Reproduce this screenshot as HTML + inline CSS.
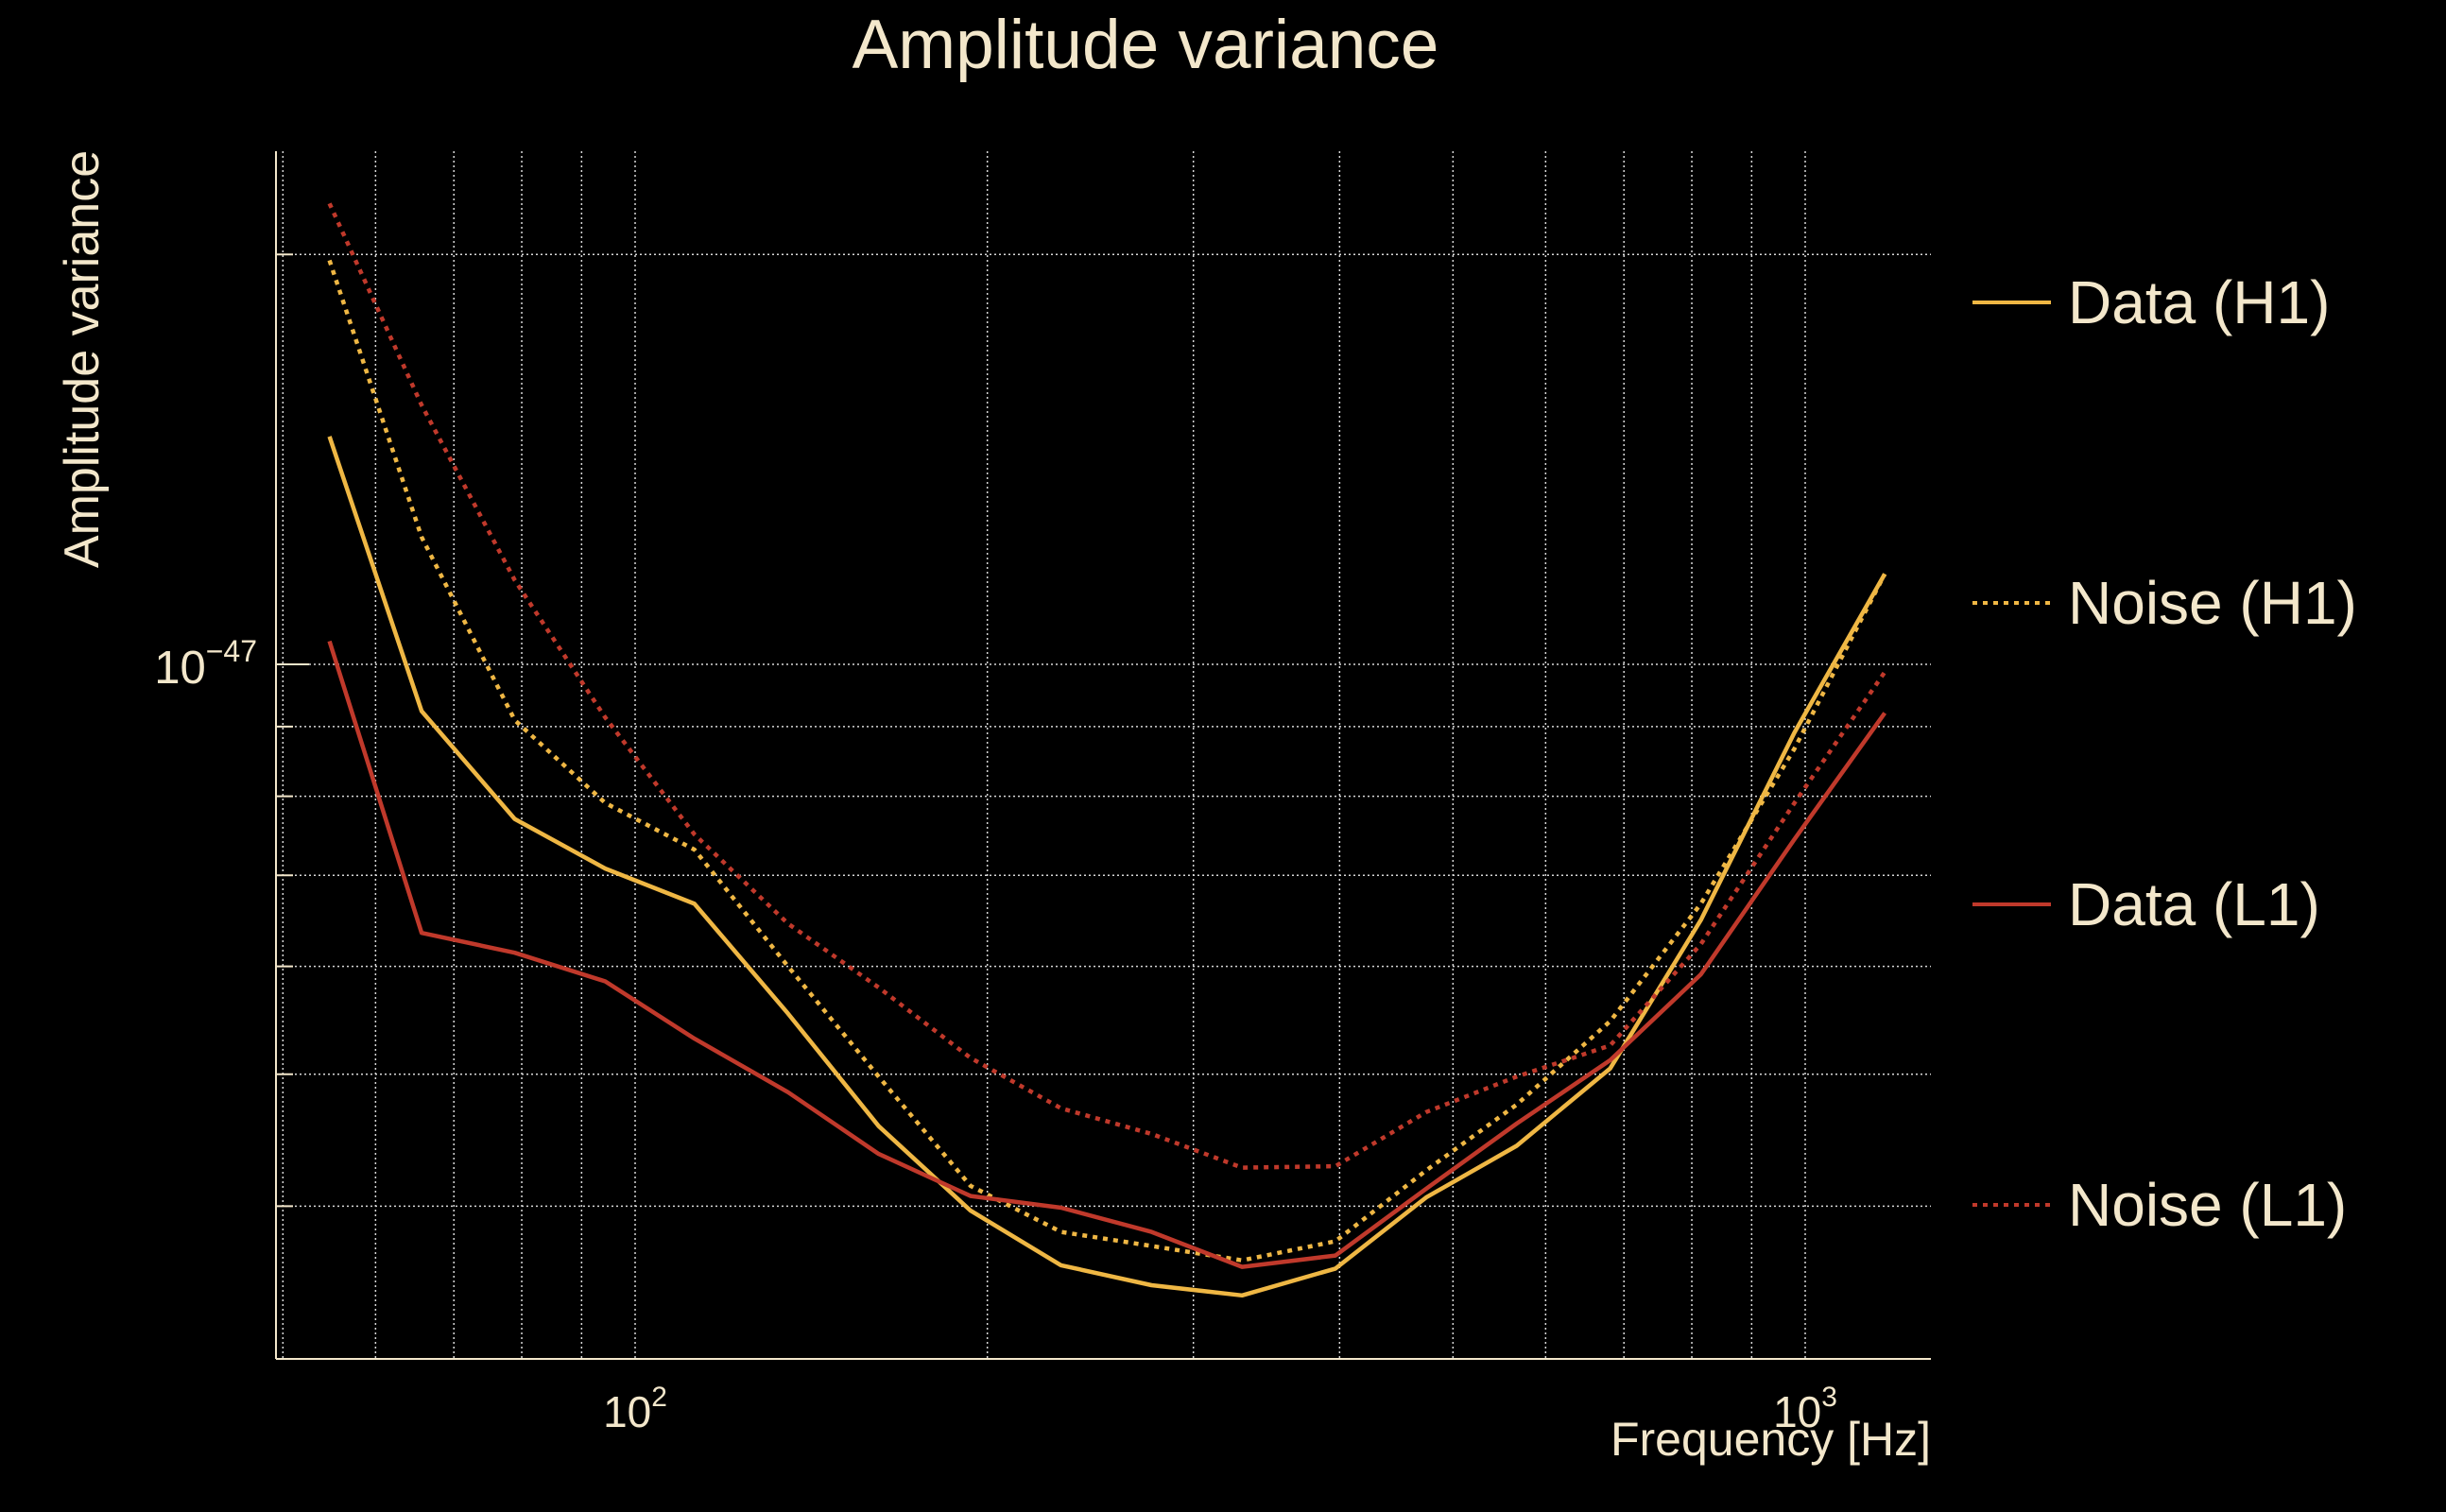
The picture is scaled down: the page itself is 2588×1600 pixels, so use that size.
<!DOCTYPE html>
<html><head><meta charset="utf-8"><style>
html,body{margin:0;padding:0;background:#000;}
svg{display:block;}
text{font-family:"Liberation Sans",sans-serif;fill:#f3e7cb;}
</style></head><body>
<svg id="chart" width="2588" height="1600" viewBox="0 0 2588 1600" xmlns="http://www.w3.org/2000/svg">
<rect width="2588" height="1600" fill="#000"/>
<text x="1212" y="72" font-size="73" text-anchor="middle">Amplitude variance</text>
<g id="grid"></g>
<g id="series"></g>
<g id="axes"></g>
<g id="legend"></g>
<text transform="translate(104,380) rotate(-90)" font-size="52" text-anchor="middle">Amplitude variance</text>
<text x="2043" y="1540" font-size="50" text-anchor="end">Frequency [Hz]</text>
</svg>
<script>
const freqs = [54.8,65.7,78.9,94.3,112.4,135.1,161.5,193.5,231.2,276.3,330.2,396.8,474.3,566.8,681.3,814.4,979,1169.5];
const dataH1 = [14.7,9.24,7.70,7.08,6.67,5.54,4.58,3.97,3.62,3.50,3.44,3.60,4.06,4.43,5.05,6.49,8.91,11.65];
const noiseH1 = [19.8,12.4,9.10,7.91,7.31,6.00,4.98,4.14,3.83,3.74,3.65,3.77,4.25,4.75,5.47,6.67,8.67,11.65];
const dataL1 = [10.40,6.35,6.14,5.85,5.31,4.85,4.37,4.07,3.99,3.83,3.61,3.68,4.12,4.60,5.12,5.92,7.44,9.21];
const noiseL1 = [21.8,15.5,11.53,9.14,7.50,6.45,5.79,5.14,4.72,4.52,4.27,4.28,4.69,4.98,5.25,6.23,7.91,9.87];
const seriesNames = ["Data (H1)","Noise (H1)","Data (L1)","Noise (L1)"];
const xGridTicks = [50,60,70,80,90,100,200,300,400,500,600,700,800,900,1000];
const yGridTicks = [4,5,6,7,8,9,10,20];
const xTickLabels = [["10","2",100],["10","3",1000]];
const yTickLabels = [["10","\u221247",10]];
const unit = 1e-48;

const NS="http://www.w3.org/2000/svg";
const L=292,R=2043,T=160,B=1438;
function xs(f){return 672+(Math.log10(f)-2)*1238;}
function ys(m){return 703-(Math.log10(m*unit)+47)*1441;}
function mk(tag,attrs,parent){const e=document.createElementNS(NS,tag);for(const k in attrs)e.setAttribute(k,attrs[k]);parent.appendChild(e);return e;}
const grid=document.getElementById('grid'),ser=document.getElementById('series'),axes=document.getElementById('axes'),leg=document.getElementById('legend');
xGridTicks.forEach(f=>{const x=xs(f);const g=mk('line',{x1:x,x2:x,y1:T,y2:B,stroke:'#d8d8d8','stroke-width':1.5,'stroke-dasharray':'2,3'},grid);

});
yGridTicks.forEach(m=>{const y=ys(m);const g=mk('line',{x1:L,x2:R,y1:y,y2:y,stroke:'#d8d8d8','stroke-width':1.5,'stroke-dasharray':'2,3'},grid);


const t=mk('line',{x1:L,x2:L+(m===10?35:18),y1:y,y2:y,stroke:'#f3e7cb','stroke-width':2},axes);

});
const ax1=mk('line',{x1:L,x2:L,y1:T,y2:B,stroke:'#f3e7cb','stroke-width':2},axes);


const ax2=mk('line',{x1:L,x2:R,y1:B,y2:B,stroke:'#f3e7cb','stroke-width':2},axes);


xTickLabels.forEach(t=>{const e=mk('text',{x:xs(t[2]),y:1510,'font-size':46,'text-anchor':'middle'},axes);e.innerHTML=t[0]+'<tspan dy="-22" font-size="30">'+t[1]+'</tspan>';

});
yTickLabels.forEach(t=>{const e=mk('text',{x:272,y:ys(t[2])+20,'font-size':49,'text-anchor':'end'},axes);e.innerHTML=t[0]+'<tspan dy="-23" font-size="32">'+t[1]+'</tspan>';

});
const sets=[[dataH1,'#efb744',null],[noiseH1,'#efb744','5,6'],[dataL1,'#c0392b',null],[noiseL1,'#c0392b','5,6']];
const legY=[320,638,957,1275];
sets.forEach((s,i)=>{const pts=freqs.map((f,j)=>xs(f).toFixed(1)+','+ys(s[0][j]).toFixed(1)).join(' ');
const a={points:pts,fill:'none',stroke:s[1],'stroke-width':4.5,'stroke-linejoin':'round'};if(s[2])a['stroke-dasharray']=s[2];
const p=mk('polyline',a,ser);


const la={x1:2087,x2:2170,y1:legY[i],y2:legY[i],stroke:s[1],'stroke-width':4};if(s[2])la['stroke-dasharray']=s[2];
const ll=mk('line',la,leg);


const lt=mk('text',{x:2188,y:legY[i]+22,'font-size':64},leg);lt.textContent=seriesNames[i];

});
</script>
</body></html>
